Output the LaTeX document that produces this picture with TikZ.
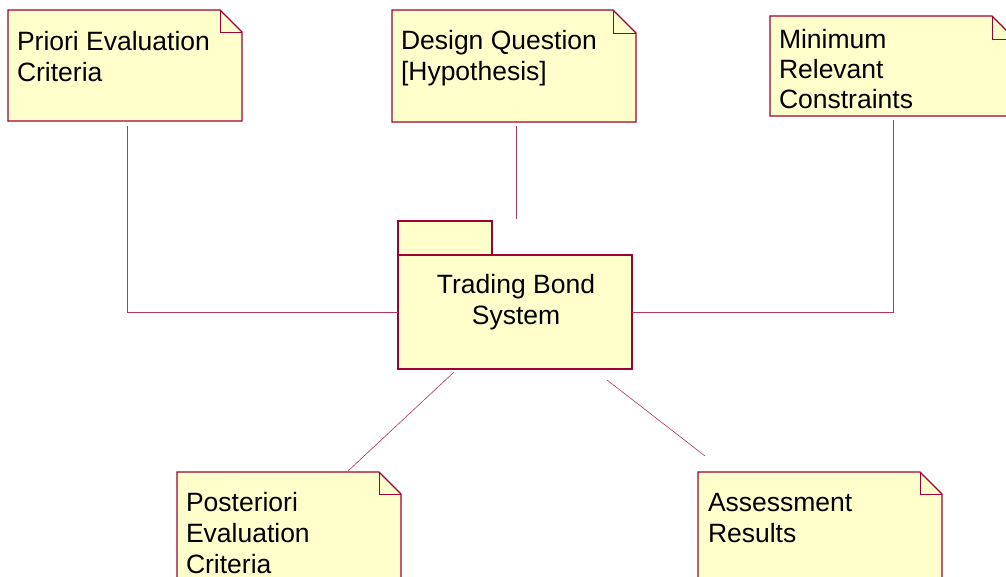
\documentclass[tikz,border=0pt]{standalone}
\usepackage{fontspec}
\setmainfont{Liberation Sans}
\usetikzlibrary{calc}
\definecolor{umlborder}{RGB}{160,0,50}
\definecolor{umlfill}{RGB}{255,255,204}
\definecolor{umlline}{RGB}{180,50,100}
\tikzset{
  area/.style={inner sep=0pt, outer sep=0pt, anchor=north west, draw=none},
  outline/.style={draw=umlborder, line width=1.3pt, line join=miter},
  foldline/.style={draw=umlborder, line width=0.8pt},
  notetext/.style={inner sep=0pt, outer sep=0pt, anchor=north west, align=left,
    font=\fontsize{26.5}{31}\selectfont, text=black},
  pkgtext/.style={inner sep=0pt, outer sep=0pt, anchor=north, align=center,
    font=\fontsize{26.5}{31}\selectfont, text=black},
  link/.style={draw=umlline, line width=0.6pt}
}
% #1 name, #2 x, #3 y, #4 width, #5 height, #6 fold
\newcommand\umlnote[6]{%
  \node[area, minimum width=#4pt, minimum height=#5pt] (#1) at (#2,#3) {};
  \path[outline, fill=umlfill] (#1.north west) -- ($(#1.north east)+(-#6,0)$)
     -- ($(#1.north east)+(0,#6)$) -- (#1.south east) -- (#1.south west) -- cycle;
  \draw[foldline] ($(#1.north east)+(-#6,0)$) -- ($(#1.north east)+(-#6,#6)$)
     -- ($(#1.north east)+(0,#6)$);
}
\begin{document}
\begin{tikzpicture}[x=1pt,y=-1pt]
\clip (0,0) rectangle (1006,576);
\fill[white] (0,0) rectangle (1006,576);

\umlnote{pri}{8}{10}{234}{111}{22}
\umlnote{des}{392}{10}{244}{112}{23}
\umlnote{min}{770}{16}{245}{100}{23}
\umlnote{post}{177}{472}{224}{140}{22}
\umlnote{ass}{698}{472}{244}{140}{22}

% package
\node[area, minimum width=94pt, minimum height=34pt] (tab) at (398,221) {};
\node[area, minimum width=234pt, minimum height=114pt] (pkg) at (398,255) {};
\path[outline, fill=umlfill] (tab.north west) rectangle (tab.south east);
\path[outline, fill=umlfill] (pkg.north west) rectangle (pkg.south east);

% texts
\node[notetext] (pri-t) at (17,28.3) {\strut Priori Evaluation\\Criteria};
\node[notetext] (des-t) at (401,27.3) {\strut Design Question\\{[Hypothesis]}};
\node[notetext, font=\fontsize{26.5}{29.7}\selectfont] (min-t) at (779,28.2) {\strut Minimum\\Relevant\\Constraints};
\node[notetext] (post-t) at (186,489.3) {\strut Posteriori\\Evaluation\\Criteria};
\node[notetext] (ass-t) at (708,489.3) {\strut Assessment\\Results};
\node[pkgtext] (pkg-t) at (516,271.3) {\strut Trading Bond\\System};

% connectors
\draw[link] ($(pri.south)+(2,5)$) |- (pkg.west);
\draw[link] ($(min.south)+(1,4)$) |- (pkg.east);
\draw[link] ($(des.south)+(2,4)$) -- ($(tab.north west)+(118,-2)$);
\draw[link] ($(pkg.south west)+(56,3)$) -- ($(post.north west)+(171,-1)$);
\draw[link] ($(pkg.south west)+(209,11)$) -- ($(ass.north west)+(7,-16)$);
\end{tikzpicture}
\end{document}
